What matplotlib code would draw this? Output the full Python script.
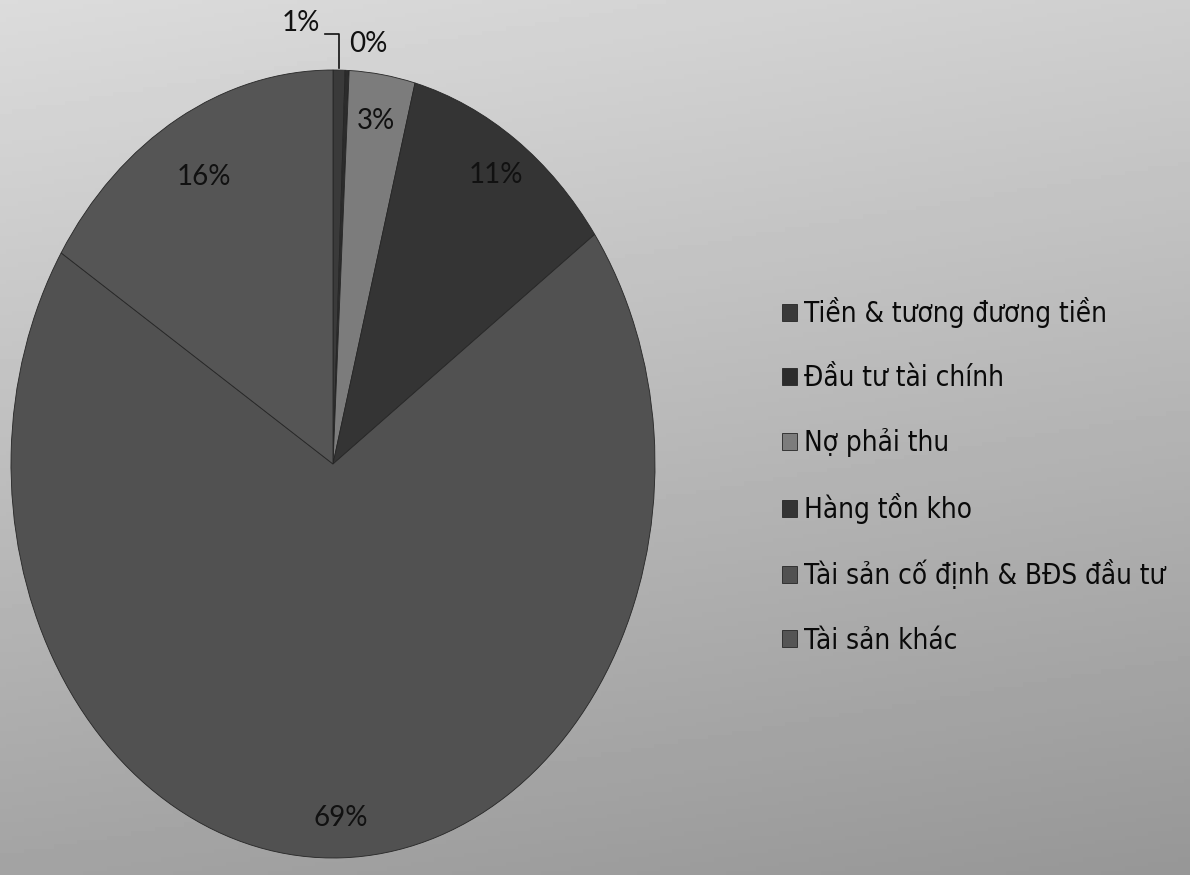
import numpy as np
import matplotlib
matplotlib.use("Agg")
from matplotlib import pyplot as plt

# co cau tai san (%)
labels = ["Tiền & tương đương tiền", "Đầu tư tài chính", "Nợ phải thu",
          "Hàng tồn kho", "Tài sản cố định & BĐS đầu tư", "Tài sản khác"]
values = [0.6, 0.2, 3.3, 11.0, 68.9, 16.0]
colors = ["#3a3a3a", "#2c2c2c", "#7c7c7c", "#343434", "#515151", "#555555"]
pct_radius = [0.0, 0.0, 0.88, 0.89, 0.90, 0.83]

fig = plt.figure(figsize=(11.9, 8.75), dpi=100)

# nen xam chuyen dan
bg = fig.add_axes([0, 0, 1, 1])
yy, xx = np.mgrid[0:1:200j, 0:1:200j]
grad = 0.86 - 0.22 * yy - 0.05 * xx
bg.imshow(grad, cmap="gray", vmin=0, vmax=1, aspect="auto", extent=(0, 1, 0, 1))
bg.axis("off")

ax = fig.add_axes([11 / 1190, 17 / 875, 644 / 1190, 788 / 875])
wedges, texts, autotexts = ax.pie(values, colors=colors, startangle=90,
                                  counterclock=False, autopct="%.0f%%",
                                  pctdistance=0.88,
                                  wedgeprops=dict(edgecolor="#262626", linewidth=0.6),
                                  textprops=dict(fontsize=20, family=["Lato", "DejaVu Sans"],
                                                 color="#111111"))
ax.set_aspect("auto")
ax.set_xlim(-1, 1)
ax.set_ylim(-1, 1)

# vi tri nhan phan tram
for w, t, r in zip(wedges, autotexts, pct_radius):
    ang = np.deg2rad((w.theta1 + w.theta2) / 2)
    if r > 0:
        t.set_position((r * np.cos(ang), r * np.sin(ang)))

# hai lat nho: nhan ben ngoai
autotexts[0].set_position((-0.10, 1.12))
autotexts[1].set_position((0.11, 1.065))
ax.plot([-0.025, 0.018, 0.018], [1.091, 1.091, 1.005], color="#111111",
        lw=1.2, clip_on=False)

leg = fig.legend(wedges, labels, loc="upper left",
                 bbox_to_anchor=(782 / 1190, 1 - 297 / 875),
                 frameon=False, labelspacing=1.3,
                 handlelength=0.55, handleheight=0.55, handletextpad=0.25,
                 borderpad=0, borderaxespad=0,
                 prop=dict(family="DejaVu Sans", stretch="condensed", size=20))
for t in leg.get_texts():
    t.set_color("#0a0a0a")

fig.savefig("out.png", dpi=100)
